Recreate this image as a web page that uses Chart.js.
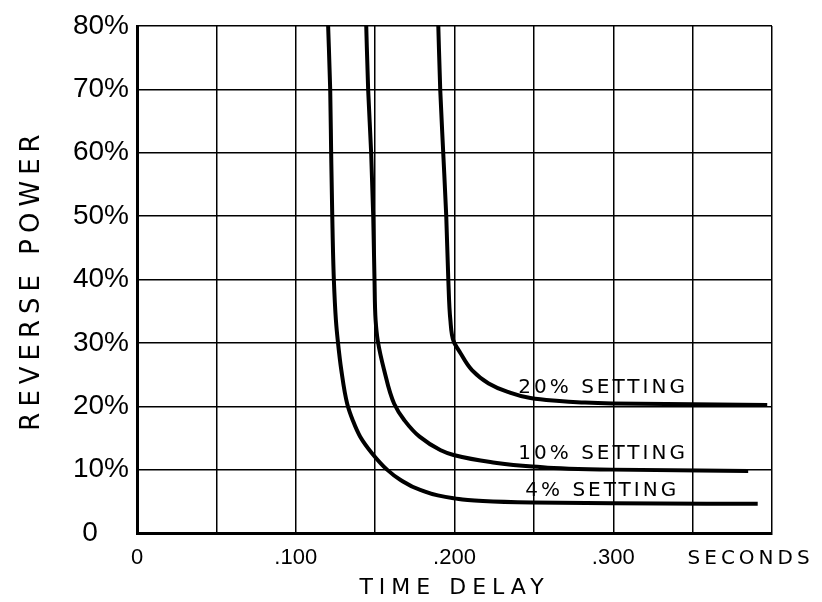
<!DOCTYPE html>
<html><head><meta charset="utf-8">
<script src="https://cdn.jsdelivr.net/npm/chart.js@4.4.1/dist/chart.umd.min.js"></script>
<style>html,body{margin:0;padding:0;background:#fff;}canvas{display:block;}</style>
</head><body>
<canvas id="c" width="822" height="602"></canvas>
<script>
// ---- data ----
const seriesNames = ['4% SETTING', '10% SETTING', '20% SETTING'];
const time4  = [0.1204,0.1217,0.1223,0.1230,0.1240,0.1253,0.1265,0.1287,0.1324,0.1359,0.1406,0.1480,0.1575,0.1658,0.1784,0.1994,0.2490,0.2995,0.3910];
const power4 = [80,70,60,50,40,33.6,30.3,25.7,20.4,17.8,15.2,12.6,10.0,8.4,6.8,5.5,4.8,4.7,4.6];
const time10  = [0.1444,0.1456,0.1475,0.1488,0.1496,0.1503,0.1517,0.1557,0.1620,0.1684,0.1780,0.1910,0.1994,0.2226,0.2490,0.2995,0.3850];
const power10 = [80,70,60,50,40,33.6,30.3,25.7,20.4,17.8,15.2,13.1,12.3,11.2,10.5,10.0,9.8];
const time20  = [0.1898,0.1910,0.1929,0.1948,0.1961,0.1974,0.1994,0.2037,0.2110,0.2215,0.2331,0.2478,0.2620,0.2800,0.2995,0.3500,0.3970];
const power20 = [80,70,60,50,40,33.6,30.3,28.4,25.7,23.6,22.3,21.3,20.9,20.6,20.45,20.3,20.2];
const xTickValues = [0,0.05,0.10,0.15,0.20,0.25,0.30,0.35,0.40];
const xTickLabels = ['0','','.100','','.200','','.300','',''];
const yTickLabels = ['0    ','10%','20%','30%','40%','50%','60%','70%','80%'];
const xTitle = 'TIME DELAY';
const yTitle = 'REVERSE POWER';
const unitLabel = 'SECONDS';
// label anchors (data coordinates)
const labelTime  = [0.2446, 0.2402, 0.2402];
const labelPower = [6.6, 12.5, 22.9];
const unitLabelTime = 0.3468;

const toPts = (xs, ys) => xs.map((x, i) => ({x: x, y: ys[i]}));
const seriesData = [toPts(time4, power4), toPts(time10, power10), toPts(time20, power20)];

const INK = '#000';

const textPlugin = {
  id: 'handLettering',
  beforeDraw(chart) { chart.ctx.letterSpacing = '6px'; },
  beforeDatasetsDraw(chart) { chart.ctx.letterSpacing = '0px'; },
  afterDraw(chart) {
    const ctx = chart.ctx, xs = chart.scales.x, ys = chart.scales.y;
    ctx.save();
    ctx.fillStyle = INK;
    ctx.textAlign = 'left';
    ctx.textBaseline = 'middle';
    ctx.letterSpacing = '3px';
    ctx.font = '20px "DejaVu Sans"';
    seriesNames.forEach((n, i) => {
      ctx.fillText(n, xs.getPixelForValue(labelTime[i]), ys.getPixelForValue(labelPower[i]));
    });
    ctx.letterSpacing = '4px';
    ctx.font = '20px "DejaVu Sans"';
    ctx.fillText(unitLabel, xs.getPixelForValue(unitLabelTime), ys.bottom + 26);
    ctx.restore();
  }
};

new Chart(document.getElementById('c'), {
  type: 'line',
  data: {
    datasets: seriesNames.map((n, i) => ({
      label: n,
      data: seriesData[i],
      borderColor: INK,
      borderWidth: 4,
      pointRadius: 0,
      fill: false,
      cubicInterpolationMode: 'monotone'
    }))
  },
  options: {
    indexAxis: 'y',
    responsive: false,
    animation: false,
    devicePixelRatio: 1,
    layout: {padding: {top: 26, right: 50, left: 0, bottom: 0}},
    plugins: {legend: {display: false}, tooltip: {enabled: false}},
    scales: {
      x: {
        type: 'linear', position: 'bottom', min: 0, max: 0.4,
        afterBuildTicks: s => { s.ticks = xTickValues.map(v => ({value: v})); },
        afterFit: s => { s.height = 69; },
        ticks: {
          callback: (v, i) => xTickLabels[i],
          font: {family: 'Liberation Sans', size: 22},
          color: INK, padding: 12, maxRotation: 0, autoSkip: false, z: 1
        },
        grid: {color: INK, lineWidth: 1.5, drawTicks: false},
        border: {color: INK, width: 3},
        title: {display: true, text: xTitle, color: INK,
                font: {family: 'DejaVu Sans', size: 22}, padding: {top: 0, bottom: 1}}
      },
      y: {
        type: 'linear', position: 'left', min: 0, max: 80,
        afterFit: s => { s.width = 137; },
        ticks: {
          stepSize: 10,
          callback: (v, i) => yTickLabels[i],
          font: {family: 'Liberation Sans', size: 28},
          color: INK, padding: 8, z: 1
        },
        grid: {color: INK, lineWidth: 1.5, drawTicks: false},
        border: {color: INK, width: 3},
        title: {display: true, text: yTitle, color: INK,
                font: {family: 'DejaVu Sans', size: 26}, padding: {top: 17, bottom: 0}}
      }
    }
  },
  plugins: [textPlugin]
});
</script>
</body></html>
